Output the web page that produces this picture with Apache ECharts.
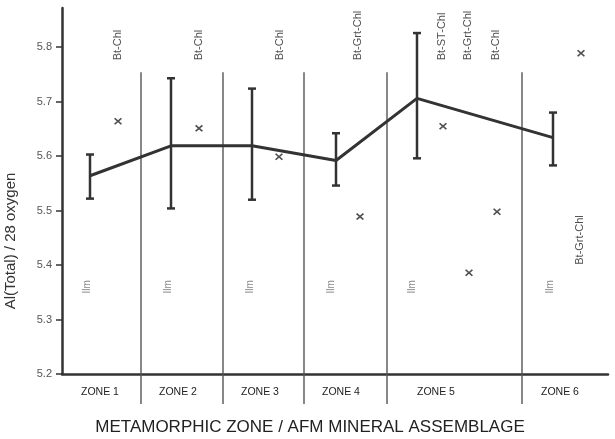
<!DOCTYPE html>
<html><head><meta charset="utf-8">
<script src="https://cdn.jsdelivr.net/npm/echarts@6/dist/echarts.min.js"></script>
<style>html,body{margin:0;padding:0;background:#fff}#c{width:615px;height:439px}</style>
</head><body><div id="c"></div>
<script>
// Zone names and label centres (x in px-like units from y-axis)
const zoneNames = ['ZONE 1','ZONE 2','ZONE 3','ZONE 4','ZONE 5','ZONE 6'];
const zoneLabelX = [38, 116, 198, 279, 374, 498];
const zoneDividerX = [79, 161, 242, 325, 460];
const dividerTop = 5.754, dividerBottom = 5.145;

// Mean values and error ranges
const meanX = [28, 109, 190, 274, 355, 491];
const meanY = [5.564, 5.619, 5.619, 5.592, 5.706, 5.634];
const errLow = [5.522, 5.504, 5.520, 5.546, 5.596, 5.583];
const errHigh = [5.603, 5.743, 5.724, 5.642, 5.826, 5.680];

// individual analyses (x marks)
const crossX = [56, 137, 217, 298, 381, 407, 435, 519];
const crossY = [5.664, 5.651, 5.599, 5.489, 5.655, 5.386, 5.498, 5.789];

// assemblage labels
const assemText = ['Bt-Chl','Bt-Chl','Bt-Chl','Bt-Grt-Chl','Bt-ST-Chl','Bt-Grt-Chl','Bt-Chl'];
const assemX = [56, 137, 218, 296, 380, 406, 434];
const assemY = 5.776;
const assem6Text = 'Bt-Grt-Chl', assem6X = 518, assem6Y = 5.446;
const ilmX = [25, 106, 188, 269, 350, 488];
const ilmY = 5.36;

const yTicks = [5.2, 5.3, 5.4, 5.5, 5.6, 5.7, 5.8];

const FONT = 'Liberation Sans, Arial, sans-serif';
const INK = '#333';

const chart = echarts.init(document.getElementById('c'), null, {renderer:'canvas'});
const crossPath = 'path://M0,1.5L1.5,0L5,3.5L8.5,0L10,1.5L6.5,5L10,8.5L8.5,10L5,6.5L1.5,10L0,8.5L3.5,5Z';

chart.setOption({
  animation: false,
  backgroundColor: '#fff',
  grid: {left: 62, right: 7, top: 8, bottom: 65, containLabel: false, outerBoundsMode: 'none'},
  xAxis: {
    type: 'value', min: 0, max: 546,
    axisLine: {show: true, onZero: false, lineStyle: {color: INK, width: 2.5}},
    axisTick: {show: false},
    splitLine: {show: false},
    axisLabel: {
      customValues: zoneLabelX,
      formatter: v => zoneNames[zoneLabelX.indexOf(v)] || '',
      color: '#222', fontFamily: FONT, fontSize: 10.5, margin: 13
    },
    name: 'METAMORPHIC ZONE / AFM MINERAL ASSEMBLAGE',
    nameLocation: 'middle', nameGap: 45,
    nameTextStyle: {fontFamily: FONT, fontSize: 17, color: '#222', padding: [0, 50, 0, 0]}
  },
  yAxis: {
    type: 'value', min: 5.2, max: 5.872,
    axisLine: {show: true, lineStyle: {color: INK, width: 2.5}},
    axisTick: {show: true, customValues: yTicks, length: 6, lineStyle: {color: INK, width: 1.5}},
    splitLine: {show: false},
    axisLabel: {customValues: yTicks, formatter: v => v.toFixed(1), color: '#555', fontFamily: FONT, fontSize: 11, margin: 10},
    name: 'Al(Total) / 28 oxygen',
    nameLocation: 'middle', nameGap: 44, nameRotate: 90,
    nameTextStyle: {fontFamily: FONT, fontSize: 15, color: '#333', padding: [0, 100, 0, 0]}
  },
  series: [
    {
      type: 'custom', silent: true, clip: false,
      data: zoneDividerX.map(x => [x]),
      renderItem: (params, api) => {
        const x = api.value(0);
        const a = api.coord([x, dividerTop]);
        const b = api.coord([x, dividerBottom]);
        return {type: 'line', shape: {x1: a[0], y1: a[1], x2: b[0], y2: b[1]}, style: {stroke: '#555', lineWidth: 1.4}};
      }
    },
    {
      type: 'line', data: meanX.map((x, i) => [x, meanY[i]]),
      symbol: 'none', lineStyle: {color: INK, width: 3}, z: 5
    },
    {
      type: 'custom', silent: true, z: 6,
      data: meanX.map((x, i) => [x, errLow[i], errHigh[i]]),
      renderItem: (params, api) => {
        const x = api.value(0);
        const lo = api.coord([x, api.value(1)]);
        const hi = api.coord([x, api.value(2)]);
        const w = 4;
        const st = {stroke: INK, lineWidth: 2.5};
        return {type: 'group', children: [
          {type: 'line', shape: {x1: hi[0], y1: hi[1], x2: lo[0], y2: lo[1]}, style: st},
          {type: 'line', shape: {x1: hi[0]-w, y1: hi[1], x2: hi[0]+w, y2: hi[1]}, style: st},
          {type: 'line', shape: {x1: lo[0]-w, y1: lo[1], x2: lo[0]+w, y2: lo[1]}, style: st}
        ]};
      }
    },
    {
      type: 'scatter', symbol: crossPath, symbolSize: [8, 7],
      itemStyle: {color: '#222'},
      data: crossX.map((x, i) => [x, crossY[i]])
    },
    {
      type: 'scatter', symbolSize: 1, itemStyle: {color: 'rgba(0,0,0,0)'},
      data: assemX.map((x, i) => ({value: [x, assemY], name: assemText[i]}))
        .concat([{value: [assem6X, assem6Y], name: assem6Text, label: {align: 'center'}}]),
      label: {show: true, position: 'inside', rotate: 90, align: 'left', verticalAlign: 'middle',
        formatter: p => p.name, color: '#222', fontFamily: FONT, fontSize: 11}
    },
    {
      type: 'scatter', symbolSize: 1, itemStyle: {color: 'rgba(0,0,0,0)'},
      data: ilmX.map(x => ({value: [x, ilmY], name: 'Ilm'})),
      label: {show: true, position: 'inside', rotate: 90, align: 'center', verticalAlign: 'middle',
        formatter: p => p.name, color: '#666', fontFamily: FONT, fontSize: 10}
    }
  ]
});
</script></body></html>
